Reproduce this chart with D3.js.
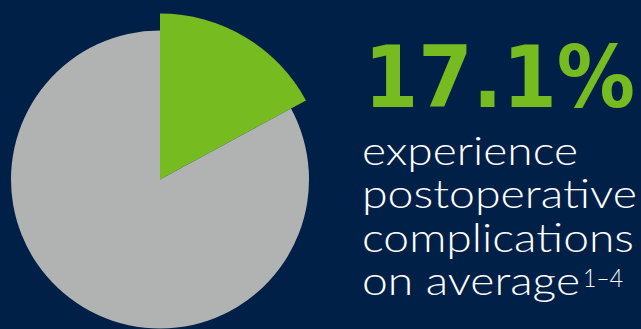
<!DOCTYPE html>
<html><head><meta charset="utf-8">
<script src="https://cdn.jsdelivr.net/npm/d3@7"></script>
<style>
html,body{margin:0;padding:0;background:#002048;}
svg{display:block;}
</style></head>
<body>
<script>
const categories = ["Postoperative complications", "No complications"];
const values = [17.1, 82.9];
const colors = ["#76bb1f", "#b1b3b2"];
const headline = "17.1%";
const bodyLines = ["experience", "postoperative", "complications", "on average"];
const superscript = "1\u20134";

const W = 641, H = 329;
const svg = d3.select("body").append("svg").attr("width", W).attr("height", H);
svg.append("rect").attr("width", W).attr("height", H).attr("fill", "#002048");

const cx = 160, cy = 179.5;
const baseR = 149, highlightR = 166;
const pie = d3.pie().sort(null).value(d => d)(values);
const g = svg.append("g").attr("transform", `translate(${cx},${cy})`);
const color = d3.scaleOrdinal().domain(categories).range(colors);
g.selectAll("path").data(pie).join("path")
  .attr("d", (d, i) => d3.arc().innerRadius(0).outerRadius(i === 0 ? highlightR : baseR)(d))
  .attr("fill", (d, i) => color(categories[i]));

svg.append("text")
  .attr("x", 364).attr("y", 107)
  .attr("font-family", "DejaVu Sans, sans-serif")
  .attr("font-weight", "bold")
  .attr("font-size", 85)
  .attr("fill", "#76bb1f")
  .attr("textLength", 271).attr("lengthAdjust", "spacingAndGlyphs")
  .text(headline);

const baselines = [164.5, 208, 251.5, 294.5];
const widths = [216, 275, 272, 218];
const bodyFont = "Lato, Inter, 'Open Sans', sans-serif";
bodyLines.forEach((t, i) => {
  svg.append("text")
    .attr("x", 362).attr("y", baselines[i])
    .attr("font-family", bodyFont)
    .attr("font-weight", 300)
    .attr("font-size", 40)
    .attr("fill", "#ffffff")
    .attr("textLength", widths[i]).attr("lengthAdjust", "spacingAndGlyphs")
    .text(t);
});
svg.append("text")
  .attr("x", 583).attr("y", 287)
  .attr("font-family", bodyFont)
  .attr("font-weight", 300)
  .attr("font-size", 26)
  .attr("fill", "#ffffff")
  .attr("textLength", 40).attr("lengthAdjust", "spacingAndGlyphs")
  .text(superscript);
</script>
</body></html>
